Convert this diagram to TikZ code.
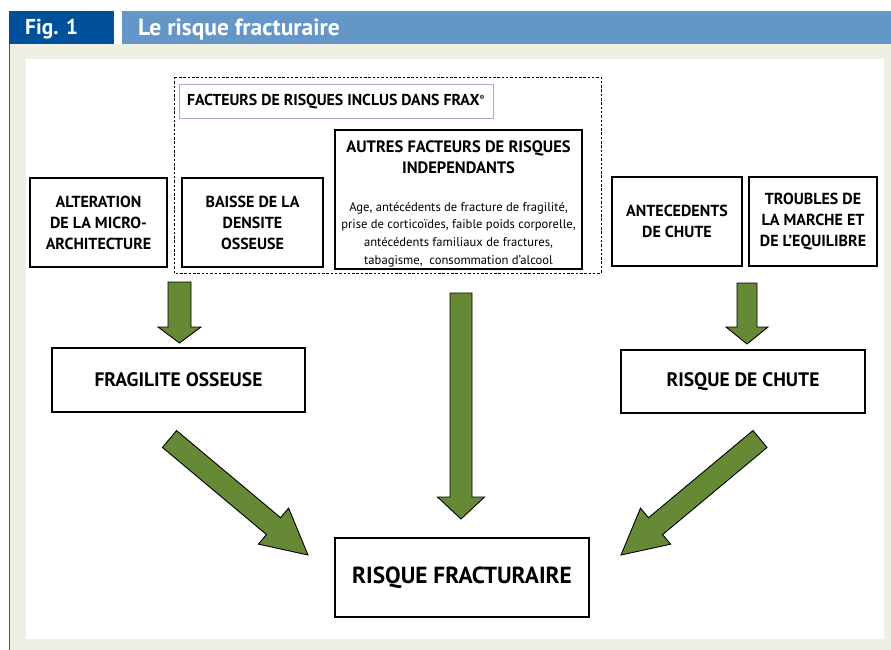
\documentclass[tikz,border=0pt]{standalone}
\usepackage{fontspec}
\setmainfont{PT Sans}
\usetikzlibrary{calc}
\definecolor{figblue}{RGB}{0,80,155}
\definecolor{titleblue}{RGB}{101,150,200}
\definecolor{beige}{RGB}{240,239,230}
\definecolor{arrowgreen}{RGB}{101,137,52}
\definecolor{fraxpurple}{RGB}{185,160,205}
\tikzset{
  box/.style={draw=black, line width=1.1pt, fill=white, align=center, inner sep=2pt,
              font=\bfseries\fontsize{16}{21}\selectfont},
  midbox/.style={box, font=\bfseries\fontsize{19.5}{22}\selectfont},
  txt/.style={align=center, inner sep=0pt},
  barrow/.style={draw=black, line width=0.9pt, fill=arrowgreen, line join=miter},
}
\newcommand\blockarrow[5]{%
  \coordinate (ba-c) at ($(#2)!#5!(#1)$);
  \draw[barrow] ($(#1)!#3!90:(#2)$) -- ($(ba-c)!#3!90:(#2)$) -- ($(ba-c)!#4!90:(#2)$) -- (#2)
     -- ($(ba-c)!#4!-90:(#2)$) -- ($(ba-c)!#3!-90:(#2)$) -- ($(#1)!#3!-90:(#2)$) -- cycle;}
\begin{document}
\begin{tikzpicture}[x=1pt,y=-1pt]
\useasboundingbox (0,0) rectangle (891,650);
% background
\fill[beige] (10,44) rectangle (891,650);
\draw[gray!70!black, line width=0.8pt] (9.5,44) -- (9.5,650);
\fill[white] (26,59) rectangle (884,639);
% header
\fill[figblue] (9,11) rectangle (114,44);
\fill[titleblue] (122,11) rectangle (891,44);
\node[anchor=west, text=white, font=\bfseries\fontsize{21.5}{23}\selectfont, inner sep=0] (fig) at (25,29) {Fig. 1};
\node[anchor=west, text=white, font=\bfseries\fontsize{23.5}{25}\selectfont, inner sep=0] (title) at (138,29) {Le risque fracturaire};
% dashed group
\draw[line width=0.6pt, dash pattern=on 2.5pt off 1.8pt] (174,77) rectangle (601,273);
\node[draw=fraxpurple, line width=1pt, fill=white, minimum width=314pt, minimum height=34pt,
      inner sep=1pt, font=\bfseries\fontsize{15.8}{17}\selectfont] (frax) at (336,102)
      {FACTEURS DE RISQUES INCLUS DANS FRAX\textsuperscript{\fontsize{7}{7}\selectfont\textregistered}};
% top boxes
\node[box, minimum width=137pt, minimum height=89pt] (alt) at (98.5,222.5) {ALTERATION\\DE LA MICRO-\\ARCHITECTURE};
\node[box, minimum width=141pt, minimum height=89pt] (baisse) at (252.5,222.5) {BAISSE DE LA\\DENSITE\\OSSEUSE};
\node[box, minimum width=247pt, minimum height=139pt] (autres) at (458.5,199.5) {};
\node[txt, font=\bfseries\fontsize{16.5}{21}\selectfont] (autrestitle) at ($(autres.north)+(0,28)$)
  {AUTRES FACTEURS DE RISQUES\\INDEPENDANTS};
\node[txt, font=\fontsize{12.6}{17.6}\selectfont] (autresdet) at ($(autres.south)+(0,-35)$)
  {Age, antécédents de fracture de fragilité,\\
   prise de corticoïdes, faible poids corporelle,\\
   antécédents familiaux de fractures,\\
   tabagisme,\ \ consommation d’alcool};
\node[box, minimum width=130pt, minimum height=89pt] (antec) at (677,221.5) {ANTECEDENTS\\DE CHUTE};
\node[box, minimum width=128pt, minimum height=89pt] (troubles) at (813,221.5) {TROUBLES DE\\LA MARCHE ET\\DE L’EQUILIBRE};
% middle boxes
\node[midbox, minimum width=253pt, minimum height=64pt] (fragi) at (178.5,380) {FRAGILITE OSSEUSE};
\node[midbox, minimum width=244pt, minimum height=63pt] (chute) at (743,381.5) {RISQUE DE CHUTE};
% bottom box
\node[box, minimum width=254pt, minimum height=79pt, font=\bfseries\fontsize{23.3}{26}\selectfont] (risque) at (462,577.5) {RISQUE FRACTURAIRE};
% arrows
\coordinate (a1t) at (179.5,282); \coordinate (a1h) at (179.5,343);
\coordinate (a2t) at (461,293);   \coordinate (a2h) at (461,519);
\coordinate (a3t) at (747,283);   \coordinate (a3h) at (747,344);
\coordinate (a4t) at (169.5,439); \coordinate (a4h) at (308,555);
\coordinate (a5t) at (760,439);   \coordinate (a5h) at (621,555);
\blockarrow{a1t}{a1h}{11.5pt}{21.5pt}{16pt}
\blockarrow{a2t}{a2h}{11pt}{23.5pt}{22pt}
\blockarrow{a3t}{a3h}{10pt}{21pt}{17pt}
\blockarrow{a4t}{a4h}{11pt}{23.5pt}{45pt}
\blockarrow{a5t}{a5h}{11pt}{23.5pt}{45pt}
\end{tikzpicture}
\end{document}
